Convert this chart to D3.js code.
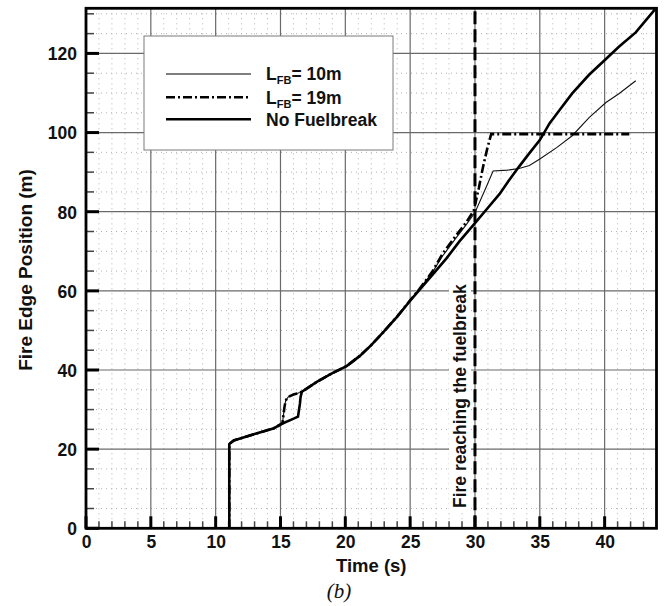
<!DOCTYPE html>
<html><head><meta charset="utf-8">
<script src="https://cdn.jsdelivr.net/npm/d3@7/dist/d3.min.js"></script>
<style>body{margin:0;background:#fff}svg{display:block}</style>
</head><body><svg id="c" width="671" height="606"></svg>
<script>
// ---- data ----
const xTickValues = [0, 5, 10, 15, 20, 25, 30, 35, 40];
const yTickValues = [0, 20, 40, 60, 80, 100, 120];
const xMinorValues = [1,2,3,4,6,7,8,9,11,12,13,14,16,17,18,19,21,22,23,24,26,27,28,29,31,32,33,34,36,37,38,39,41,42,43];
const yMinorValues = [5,10,15,25,30,35,45,50,55,65,70,75,85,90,95,105,110,115,125,130];
const xDomain = [0, 44];
const yDomain = [0, 131.4];
const fuelbreakTime = 30;

const noFuelbreak = [
  [11.05,0],[11.05,21.3],[11.4,22.2],[13.0,23.8],[14.5,25.3],[15.15,26.5],
  [15.8,27.4],[16.35,28.2],[16.5,31.5],[16.55,33.2],[16.65,34.5],
  [17.8,37.0],[19.0,39.2],[20.1,41.0],[21.1,43.5],[22.0,46.3],[23.0,49.8],
  [24.0,53.5],[25.0,57.5],[25.7,60.2],[26.7,64.0],[27.8,68.2],[28.8,72.5],
  [30.0,77.1],[31.0,81.0],[31.9,84.5],[32.6,87.8],[33.4,91.4],[34.2,94.8],
  [35.0,98.1],[35.75,102.3],[36.6,106.0],[37.5,109.9],[38.8,114.6],
  [40.1,118.6],[41.1,121.7],[42.4,125.3],[43.9,131.2]
];
const lfb10 = [
  [11.05,0],[11.05,21.3],[11.4,22.2],[13.0,23.8],[14.5,25.3],[15.15,26.5],
  [15.3,30.5],[15.4,32.3],[15.6,33.2],[16.0,33.8],[16.5,34.3],[16.65,34.5],
  [17.8,37.0],[19.0,39.2],[20.1,41.0],[21.1,43.5],[22.0,46.3],[23.0,49.8],
  [24.0,53.5],[25.0,57.6],[25.7,60.4],[26.7,64.6],[27.5,68.8],[28.5,73.2],
  [29.3,76.6],[30.0,79.8],[30.7,85.0],[31.4,90.3],[32.5,90.5],[33.4,90.9],
  [34.2,91.7],[35.0,93.3],[36.3,96.2],[37.5,99.2],[38.8,103.8],[40.1,107.6],
  [41.1,109.8],[42.4,113.1]
];
const lfb19 = [
  [11.05,0],[11.05,21.3],[11.4,22.2],[13.0,23.8],[14.5,25.3],[15.15,26.5],
  [15.3,30.5],[15.4,32.3],[15.6,33.2],[16.0,33.8],[16.5,34.3],[16.65,34.5],
  [17.8,37.0],[19.0,39.2],[20.1,41.0],[21.1,43.5],[22.0,46.3],[23.0,49.8],
  [24.0,53.5],[25.0,57.6],[25.7,60.4],[26.7,64.8],[27.5,69.4],[28.5,73.8],
  [29.3,77.2],[29.9,80.2],[30.3,86.0],[30.6,91.0],[30.95,96.0],[31.25,99.6],
  [41.9,99.6]
];
const legendItems = ["10m", "19m", "No Fuelbreak"];

// ---- layout ----
const W = 671, H = 606;
const L = 86, T = 8.3, R = 656.5, B = 528.3;
const FONT = "'Liberation Sans', Arial, Helvetica, sans-serif";
const svg = d3.select("#c");
svg.append("rect").attr("width", W).attr("height", H).attr("fill", "#fff");

const x = d3.scaleLinear().domain(xDomain).range([L, R]);
const y = d3.scaleLinear().domain(yDomain).range([B, T]);

svg.append("clipPath").attr("id", "clip").append("rect")
  .attr("x", L).attr("y", T).attr("width", R - L).attr("height", B - T);

const grid = svg.append("g");
grid.selectAll(".mx").data(xMinorValues).join("line")
  .attr("x1", d => x(d)).attr("x2", d => x(d)).attr("y1", T).attr("y2", B)
  .attr("stroke", "#b0b0b0").attr("stroke-width", 1).attr("stroke-dasharray", "1,4");
grid.selectAll(".my").data(yMinorValues).join("line")
  .attr("y1", d => y(d)).attr("y2", d => y(d)).attr("x1", L).attr("x2", R)
  .attr("stroke", "#b0b0b0").attr("stroke-width", 1).attr("stroke-dasharray", "1,4");
grid.selectAll(".gx").data(xTickValues.slice(1)).join("line")
  .attr("x1", d => x(d)).attr("x2", d => x(d)).attr("y1", T).attr("y2", B)
  .attr("stroke", "#6a6a6a").attr("stroke-width", 1.2);
grid.selectAll(".gy").data(yTickValues.slice(1)).join("line")
  .attr("y1", d => y(d)).attr("y2", d => y(d)).attr("x1", L).attr("x2", R)
  .attr("stroke", "#6a6a6a").attr("stroke-width", 1.2);

const xAxis = svg.append("g").attr("transform", `translate(0,${B})`)
  .call(d3.axisBottom(x).tickValues(xTickValues).tickSize(0).tickPadding(20).tickFormat(d3.format("d")));
const yAxis = svg.append("g").attr("transform", `translate(${L},0)`)
  .call(d3.axisLeft(y).tickValues(yTickValues).tickSize(0).tickPadding(9).tickFormat(d3.format("d")));
[xAxis, yAxis].forEach(a => {
  a.select(".domain").remove();
  a.selectAll("text").attr("font-family", FONT).attr("font-weight", "bold")
    .attr("font-size", "17.5px").attr("fill", "#111");
});
xAxis.selectAll("text").attr("dy", null).attr("y", 20);
yAxis.selectAll("text").attr("dy", "0.36em");

const tk = svg.append("g");
tk.selectAll(".tx").data(xTickValues).join("line")
  .attr("x1", d => x(d)).attr("x2", d => x(d)).attr("y1", B).attr("y2", B - 12)
  .attr("stroke", "#000").attr("stroke-width", 3);
tk.selectAll(".tmx").data(xMinorValues).join("line")
  .attr("x1", d => x(d)).attr("x2", d => x(d)).attr("y1", B).attr("y2", B - 7)
  .attr("stroke", "#444").attr("stroke-width", 1.5);
tk.selectAll(".ty").data(yTickValues).join("line")
  .attr("y1", d => y(d)).attr("y2", d => y(d)).attr("x1", L).attr("x2", L + 13)
  .attr("stroke", "#000").attr("stroke-width", 3);
tk.selectAll(".tmy").data(yMinorValues).join("line")
  .attr("y1", d => y(d)).attr("y2", d => y(d)).attr("x1", L).attr("x2", L + 8)
  .attr("stroke", "#444").attr("stroke-width", 1.5);

const annG = svg.append("g");
const ann = annG.append("text")
  .attr("transform", `translate(466,508) rotate(-90)`)
  .attr("font-family", FONT).attr("font-weight", "bold").attr("font-size", "17.5px")
  .attr("fill", "#111").text("Fire reaching the fuelbreak");
const bb = ann.node().getBBox();
annG.insert("rect", "text")
  .attr("transform", `translate(466,508) rotate(-90)`)
  .attr("x", bb.x - 3).attr("y", bb.y - 1).attr("width", bb.width + 6).attr("height", bb.height + 2)
  .attr("fill", "#fff");

svg.append("line")
  .attr("x1", x(fuelbreakTime)).attr("x2", x(fuelbreakTime)).attr("y1", B).attr("y2", T)
  .attr("stroke", "#000").attr("stroke-width", 3).attr("stroke-dasharray", "13,5");

const line = d3.line().x(d => x(d[0])).y(d => y(d[1]));
const curves = svg.append("g").attr("clip-path", "url(#clip)");
curves.append("path").datum(lfb10).attr("d", line)
  .attr("fill", "none").attr("stroke", "#111").attr("stroke-width", 1.1);
curves.append("path").datum(lfb19).attr("d", line)
  .attr("fill", "none").attr("stroke", "#000").attr("stroke-width", 2.6)
  .attr("stroke-dasharray", "9,3,2,3");
curves.append("path").datum(noFuelbreak).attr("d", line)
  .attr("fill", "none").attr("stroke", "#000").attr("stroke-width", 2.6);

svg.append("rect").attr("x", L).attr("y", T).attr("width", R - L).attr("height", B - T)
  .attr("fill", "none").attr("stroke", "#000").attr("stroke-width", 2.8);

const lg = svg.append("g");
lg.append("rect").attr("x", 144).attr("y", 36).attr("width", 249).attr("height", 114)
  .attr("fill", "#fff").attr("stroke", "#7a7a7a").attr("stroke-width", 1);
const rowsY = [74, 97.3, 119.3];
const styles = [
  {w: 1.1, dash: null},
  {w: 2.6, dash: "9,3,2,3"},
  {w: 2.6, dash: null}
];
legendItems.forEach((lab, i) => {
  lg.append("line").attr("x1", 166).attr("x2", 251).attr("y1", rowsY[i]).attr("y2", rowsY[i])
    .attr("stroke", "#000").attr("stroke-width", styles[i].w)
    .attr("stroke-dasharray", styles[i].dash);
  const t = lg.append("text").attr("x", 266).attr("y", rowsY[i] + 6.3)
    .attr("font-family", FONT).attr("font-weight", "bold").attr("font-size", "17.5px").attr("fill", "#111");
  if (i < 2) {
    t.append("tspan").text("L");
    t.append("tspan").attr("font-size", "11px").attr("dy", 4).text("FB");
    t.append("tspan").attr("dy", -4).text("= " + lab);
  } else {
    t.text(lab);
  }
});

svg.append("text").attr("x", (L + R) / 2).attr("y", 572).attr("text-anchor", "middle")
  .attr("font-family", FONT).attr("font-weight", "bold").attr("font-size", "18.5px").attr("fill", "#111")
  .text("Time (s)");
svg.append("text").attr("transform", `translate(32,270) rotate(-90)`).attr("text-anchor", "middle")
  .attr("font-family", FONT).attr("font-weight", "bold").attr("font-size", "19px").attr("fill", "#111")
  .text("Fire Edge Position (m)");
svg.append("text").attr("x", 339).attr("y", 598).attr("text-anchor", "middle")
  .attr("font-family", "'Liberation Serif', 'Times New Roman', serif").attr("font-style", "italic")
  .attr("font-size", "21px").attr("fill", "#111").text("(b)");
</script></body></html>
